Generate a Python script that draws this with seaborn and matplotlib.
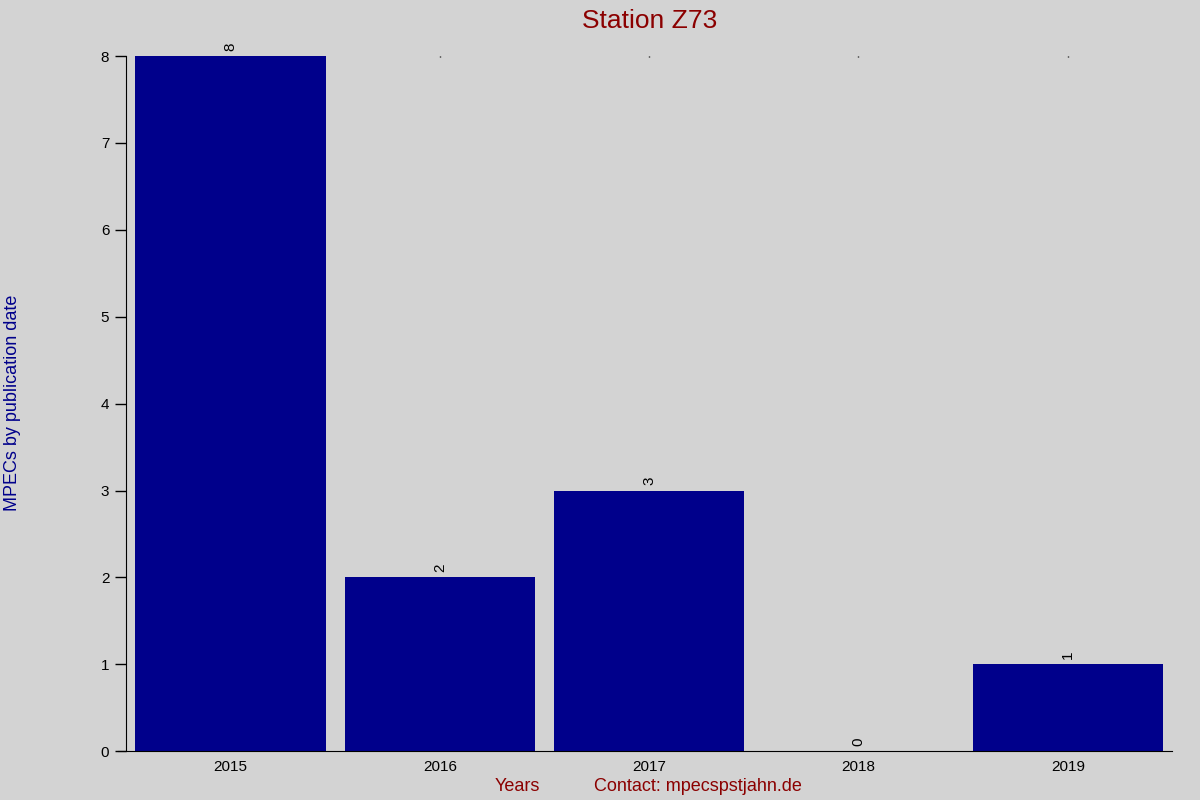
import pandas as pd
import seaborn as sns
import matplotlib
matplotlib.use('Agg')
import matplotlib.pyplot as plt

# data
years = ['2015', '2016', '2017', '2018', '2019']
mpecs = [8, 2, 3, 0, 1]

df = pd.DataFrame({'Year': years, 'MPECs': mpecs})

sns.set_style('ticks')
plt.rcParams['font.family'] = ['Liberation Sans', 'DejaVu Sans']

bg = '#d3d3d3'
fig = plt.figure(figsize=(12, 8), dpi=100, facecolor=bg)
ax = fig.add_axes([0.105, 0.061, 0.872, 0.869])
ax.set_facecolor(bg)

sns.barplot(data=df, x='Year', y='MPECs', color='#00008b', saturation=1,
            width=0.91, linewidth=0, edgecolor='none', ax=ax)

# value labels, rotated like the original
for i, v in enumerate(mpecs):
    ax.text(i, v + 0.06, str(v), rotation=90, ha='center', va='bottom',
            fontsize=11, color='black')

ax.set_xlim(-0.5, 4.5)
ax.set_ylim(0, 8)
ax.set_yticks(range(0, 9))
ax.tick_params(axis='y', length=8, width=1, labelsize=11, pad=4,
               colors='black', labelcolor='black')
ax.tick_params(axis='x', bottom=False, top=True, length=1, width=1,
               labelsize=11, pad=6, direction='in', colors='black',
               labelcolor='black')
for s in ['top', 'right']:
    ax.spines[s].set_visible(False)
ax.spines['left'].set_color('black')
ax.spines['bottom'].set_color('black')
ax.spines['bottom'].set_bounds(-0.54, 4.5)

ax.set_title('Station Z73', color='#8b0000', fontsize=19, pad=20)
ax.set_xlabel('')
ax.set_ylabel('')
fig.text(0.003, 0.496, 'MPECs by publication date', rotation=90, ha='left',
         va='center', color='#00008b', fontsize=13)
fig.text(0.431, 0.017, 'Years', ha='center', va='center', color='#8b0000', fontsize=13)
fig.text(0.582, 0.017, 'Contact: mpecspstjahn.de', ha='center', va='center',
         color='#8b0000', fontsize=13)

fig.savefig('out.png', dpi=100, facecolor=bg)
